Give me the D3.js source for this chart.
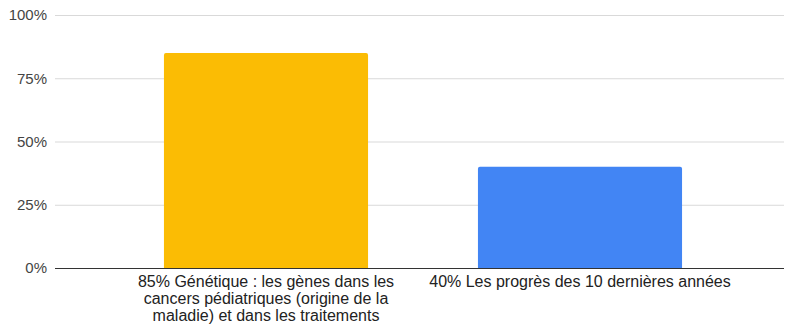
<!DOCTYPE html>
<html>
<head>
<meta charset="utf-8">
<script src="https://cdn.jsdelivr.net/npm/d3@7/dist/d3.min.js"></script>
<style>
  html, body { margin: 0; padding: 0; background: #fff; }
  svg { display: block; font-family: "Liberation Sans", Arial, Helvetica, sans-serif; }
</style>
</head>
<body>
<svg id="chart" width="785" height="324"></svg>
<script>
// Chart data
const categories = [
  "85% Génétique : les gènes dans les cancers pédiatriques (origine de la maladie) et dans les traitements",
  "40% Les progrès des 10 dernières années"
];
const values = [85, 40];
const colors = ["#FBBC04", "#4285F4"];
const yTicks = [0, 25, 50, 75, 100];

const svg = d3.select("#chart");
const plot = { left: 55, right: 784, top: 15, bottom: 268 };

const x = d3.scaleBand()
  .domain(categories)
  .range([109, 737])
  .paddingInner(0.35)
  .paddingOuter(0.175);

const y = d3.scaleLinear()
  .domain([0, 100])
  .range([plot.bottom, plot.top]);

// Gridlines
svg.append("g")
  .selectAll("line")
  .data(yTicks.filter(d => d !== 0))
  .join("line")
  .attr("x1", plot.left)
  .attr("x2", plot.right)
  .attr("y1", d => y(d) + 0.5)
  .attr("y2", d => y(d) + 0.5)
  .attr("stroke", "#d9d9d9")
  .attr("stroke-width", 1);

// Y axis labels
const yAxis = d3.axisLeft(y)
  .tickValues(yTicks)
  .tickFormat(d => d + "%")
  .tickSize(0)
  .tickPadding(0);
const gy = svg.append("g")
  .attr("transform", `translate(${plot.left - 8},0)`)
  .call(yAxis);
gy.select(".domain").remove();
gy.selectAll("text")
  .attr("fill", "#444")
  .attr("font-size", "15px")
  .attr("font-family", "Liberation Sans, Arial, sans-serif");

// Bars with slightly rounded top corners
function barPath(x0, y0, w, h, r) {
  return `M${x0},${y0 + h}V${y0 + r}Q${x0},${y0} ${x0 + r},${y0}` +
         `H${x0 + w - r}Q${x0 + w},${y0} ${x0 + w},${y0 + r}V${y0 + h}Z`;
}
svg.append("g")
  .selectAll("path")
  .data(categories.map((c, i) => ({ c, v: values[i], col: colors[i] })))
  .join("path")
  .attr("d", d => barPath(x(d.c), y(d.v), x.bandwidth(), y(0) - y(d.v), 2))
  .attr("fill", d => d.col);

// Baseline
svg.append("line")
  .attr("x1", plot.left)
  .attr("x2", plot.right)
  .attr("y1", y(0) + 0.5)
  .attr("y2", y(0) + 0.5)
  .attr("stroke", "#333")
  .attr("stroke-width", 1);

// Category labels, wrapped under each bar
const xAxis = d3.axisBottom(x).tickSize(0).tickPadding(0);
const gx = svg.append("g")
  .attr("transform", `translate(0,${y(0) + 19})`)
  .call(xAxis);
gx.select(".domain").remove();
gx.selectAll("text")
  .attr("fill", "#222")
  .attr("font-size", "16px")
  .attr("font-family", "Liberation Sans, Arial, sans-serif")
  .attr("dy", null)
  .attr("y", 0)
  .call(wrap, 304);

function wrap(texts, width) {
  texts.each(function () {
    const text = d3.select(this);
    const words = text.text().split(/\s+/);
    text.text(null);
    let line = [];
    let tspan = text.append("tspan").attr("x", 0).attr("dy", 0);
    for (const w of words) {
      line.push(w);
      tspan.text(line.join(" "));
      if (tspan.node().getComputedTextLength() > width && line.length > 1) {
        line.pop();
        tspan.text(line.join(" "));
        line = [w];
        tspan = text.append("tspan").attr("x", 0).attr("dy", 17).text(w);
      }
    }
  });
}
</script>
</body>
</html>
